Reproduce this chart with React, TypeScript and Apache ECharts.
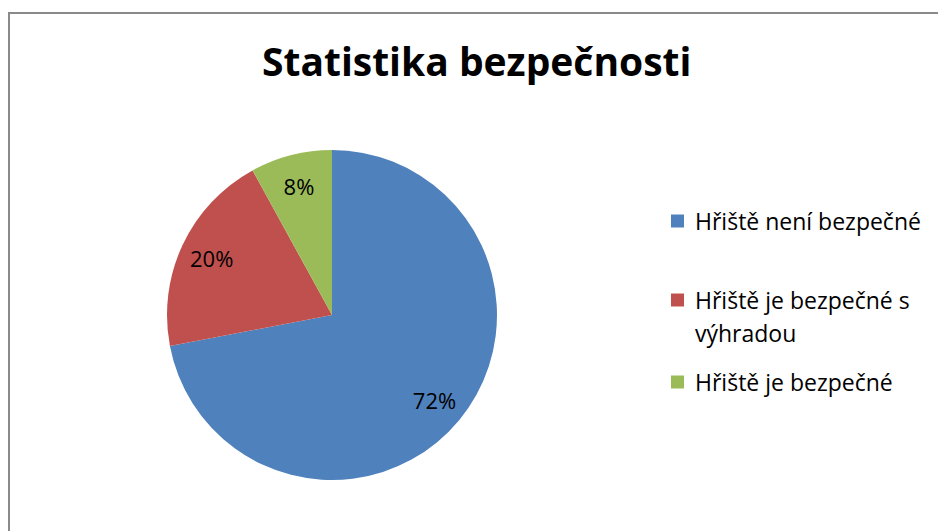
import React, { useEffect, useRef } from "react";
import * as echarts from "echarts";

const titleText = "Statistika bezpečnosti";
const categories = ["Hřiště není bezpečné", "Hřiště je bezpečné s výhradou", "Hřiště je bezpečné"];
const legendFirstLines = ["Hřiště není bezpečné", "Hřiště je bezpečné s", "Hřiště je bezpečné"];
const legendSecondLines = ["", "výhradou", ""];
const values = [72, 20, 8];
const colors = ["#4F81BD", "#C0504D", "#9BBB59"];

const FONT = "'Open Sans', 'Noto Sans', sans-serif";

export default function App() {
  const ref = useRef<HTMLDivElement>(null);
  useEffect(() => {
    if (!ref.current) return;
    const chart = echarts.init(ref.current, null, { renderer: "svg" });
    const data = categories.map((name, i) => ({ name, value: values[i], itemStyle: { color: colors[i] } }));
    const legendCenters = [221, 300, 382];
    const lh = 26;
    const legends = categories.map((name, i) => ({
      orient: "vertical",
      left: 671,
      top: legendCenters[i] - lh / 2,
      padding: 0,
      data: [name],
      icon: "rect",
      itemWidth: 13,
      itemHeight: 13,
      itemGap: 0,
      selectedMode: false,
      formatter: () => legendFirstLines[i],
      textStyle: { fontFamily: FONT, fontSize: 23, color: "#000", lineHeight: lh, padding: [0, 0, 0, 6] },
    }));
    const secondLineTexts = legendSecondLines
      .map((t, i) => ({ t, i }))
      .filter((o) => o.t)
      .map((o) => ({
        type: "text",
        left: 695,
        top: legendCenters[o.i] + 33 - lh / 2,
        style: { text: o.t, fontFamily: FONT, fontSize: 23, fill: "#000", lineHeight: lh },
        silent: true,
      }));
    chart.setOption({
      animation: false,
      backgroundColor: "#fff",
      title: {
        text: titleText,
        left: 262,
        top: 41,
        padding: 0,
        textStyle: { fontFamily: FONT, fontWeight: "bold", fontSize: 39, color: "#000" },
      },
      graphic: [
        {
          type: "rect",
          shape: { x: 9, y: 13, width: 1200, height: 1200 },
          style: { fill: "none", stroke: "#8a8a8a", lineWidth: 2 },
          silent: true,
        },
        ...secondLineTexts,
      ],
      legend: legends,
      series: [
        {
          type: "pie",
          center: [332, 315],
          radius: [0, 165],
          startAngle: 90,
          clockwise: true,
          data,
          label: { show: false },
          labelLine: { show: false },
          emphasis: { disabled: true },
          silent: true,
        },
        {
          type: "pie",
          center: [332, 315],
          radius: [95, 165],
          startAngle: 90,
          clockwise: true,
          data: categories.map((name, i) => ({ name, value: values[i] })),
          itemStyle: { color: "rgba(0,0,0,0)" },
          label: {
            show: true,
            position: "inside",
            formatter: "{c}%",
            fontFamily: FONT,
            fontSize: 22,
            color: "#000",
          },
          labelLine: { show: false },
          emphasis: { disabled: true },
          silent: true,
        },
      ],
    });
    return () => chart.dispose();
  }, []);
  return <div ref={ref} style={{ position: "fixed", left: 0, top: 0, width: 938, height: 531 }} />;
}
